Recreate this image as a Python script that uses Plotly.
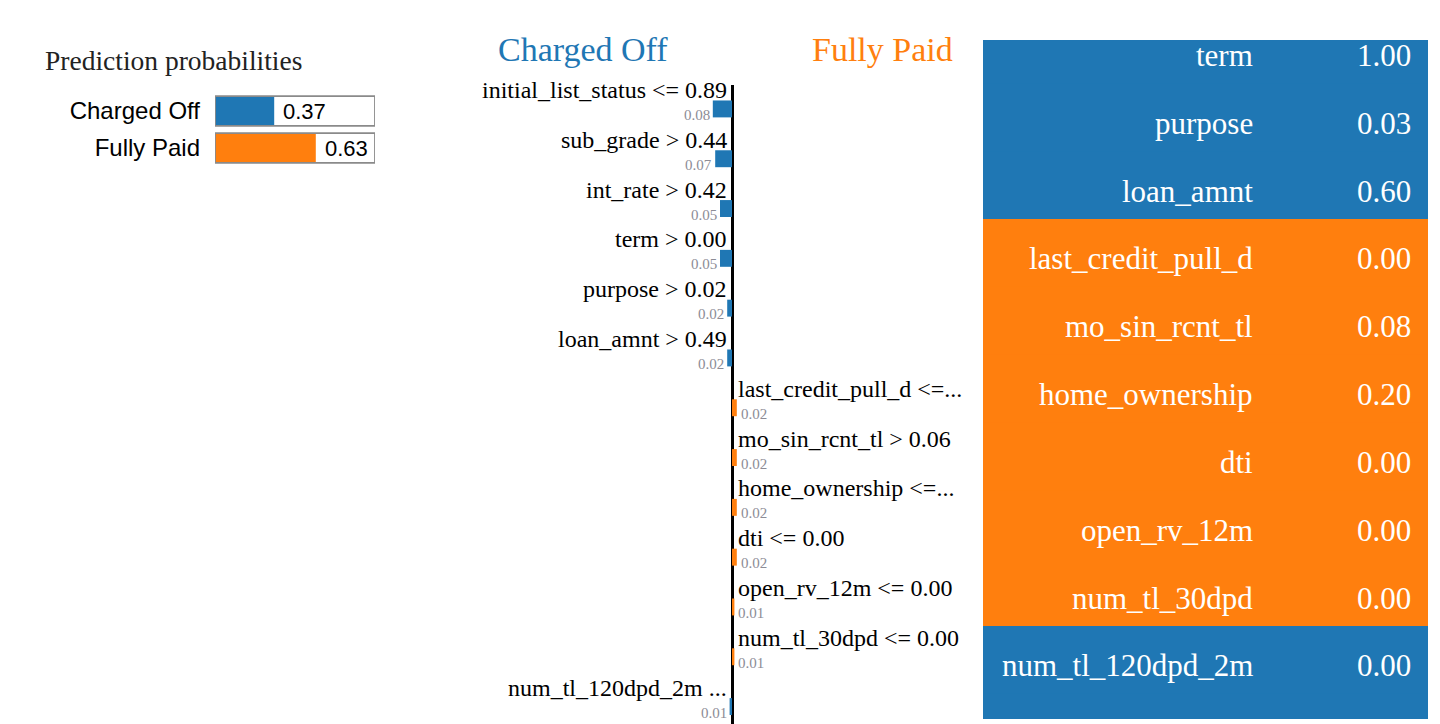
import plotly.graph_objects as go

W, H = 1440, 724
BLUE = "#1f77b4"
ORANGE = "#ff7f0e"
SERIF = "Liberation Serif"
SANS = "Liberation Sans"

# ---------------- data ----------------
classes = ["Charged Off", "Fully Paid"]
class_probs = [0.37, 0.63]

features = [
    "initial_list_status <= 0.89",
    "sub_grade > 0.44",
    "int_rate > 0.42",
    "term > 0.00",
    "purpose > 0.02",
    "loan_amnt > 0.49",
    "last_credit_pull_d <=...",
    "mo_sin_rcnt_tl > 0.06",
    "home_ownership <=...",
    "dti <= 0.00",
    "open_rv_12m <= 0.00",
    "num_tl_30dpd <= 0.00",
    "num_tl_120dpd_2m ...",
]
# negative = towards "Charged Off", positive = towards "Fully Paid"
weights = [-0.08, -0.07, -0.05, -0.05, -0.02, -0.02,
           0.02, 0.02, 0.02, 0.02, 0.01, 0.01, -0.01]

table_names = ["term", "purpose", "loan_amnt", "last_credit_pull_d",
               "mo_sin_rcnt_tl", "home_ownership", "dti", "open_rv_12m",
               "num_tl_30dpd", "num_tl_120dpd_2m", ""]
table_values = ["1.00", "0.03", "0.60", "0.00", "0.08", "0.20",
                "0.00", "0.00", "0.00", "0.00", ""]
table_side = ["Charged Off"] * 3 + ["Fully Paid"] * 6 + ["Charged Off"] * 2

# ---------------- helpers ----------------
def px_x(p):
    return p / W

def px_y(p):
    return 1 - p / H

class_color = {"Charged Off": BLUE, "Fully Paid": ORANGE}

fig = go.Figure()
annotations = []

# ---------------- prediction probabilities ----------------
rows_p = list(range(len(classes)))
fig.add_trace(go.Bar(orientation="h", x=[1] * len(classes), y=rows_p, width=0.8,
                     marker=dict(color="white", line=dict(width=0)),
                     xaxis="x", yaxis="y", hoverinfo="skip"))
fig.add_trace(go.Bar(orientation="h", x=class_probs, y=rows_p, width=0.8,
                     marker=dict(color=[class_color[c] for c in classes], line=dict(width=0)),
                     xaxis="x", yaxis="y", hoverinfo="skip"))
fig.add_trace(go.Bar(orientation="h", x=[1] * len(classes), y=rows_p, width=0.8,
                     marker=dict(color="rgba(0,0,0,0)", line=dict(color="#8a8a8a", width=1.8)),
                     xaxis="x", yaxis="y", hoverinfo="skip"))
for i, p in enumerate(class_probs):
    annotations.append(dict(x=p, y=i, xref="x", yref="y", text=f"{p:.2f}",
                            xanchor="left", yanchor="middle", xshift=7, showarrow=False,
                            font=dict(family=SANS, size=22, color="black")))

annotations.append(dict(x=px_x(43), y=px_y(61), xref="paper", yref="paper",
                        text="Prediction probabilities", xanchor="left", yanchor="middle",
                        showarrow=False, font=dict(family=SERIF, size=27.5, color="#222")))

# ---------------- explanation bars ----------------
rows = list(range(len(features)))
neg = [(r, w) for r, w in zip(rows, weights) if w < 0]
pos = [(r, w) for r, w in zip(rows, weights) if w > 0]
BAR_OFF = 0.38
fig.add_trace(go.Bar(orientation="h", x=[w for _, w in neg], y=[r + BAR_OFF for r, _ in neg],
                     width=0.34, marker=dict(color=BLUE, line=dict(width=0)),
                     xaxis="x2", yaxis="y2", hoverinfo="skip"))
fig.add_trace(go.Bar(orientation="h", x=[w for _, w in pos], y=[r + BAR_OFF for r, _ in pos],
                     width=0.34, marker=dict(color=ORANGE, line=dict(width=0)),
                     xaxis="x2", yaxis="y2", hoverinfo="skip"))
for r, (f, w) in enumerate(zip(features, weights)):
    left = w < 0
    annotations.append(dict(x=0, y=r, xref="x2", yref="y2", text=f,
                            xanchor="right" if left else "left", yanchor="middle",
                            xshift=-3 if left else 4, showarrow=False,
                            font=dict(family=SERIF, size=24, color="black")))
    annotations.append(dict(x=w, y=r + 0.5, xref="x2", yref="y2", text=f"{abs(w):.2f}",
                            xanchor="right" if left else "left", yanchor="middle",
                            xshift=-1 if left else 2, showarrow=False,
                            font=dict(family=SERIF, size=15, color="#8c8c96")))

annotations.append(dict(x=px_x(583), y=px_y(50), xref="paper", yref="paper",
                        text=classes[0], xanchor="center", yanchor="middle", showarrow=False,
                        font=dict(family=SERIF, size=34, color=BLUE)))
annotations.append(dict(x=px_x(882), y=px_y(50), xref="paper", yref="paper",
                        text=classes[1], xanchor="center", yanchor="middle", showarrow=False,
                        font=dict(family=SERIF, size=34, color=ORANGE)))

# ---------------- feature value table ----------------
trows = list(range(len(table_names)))
tcolors = [class_color[s] for s in table_side]
fig.add_trace(go.Bar(orientation="h", x=[1] * len(trows), y=trows, width=1.03,
                     marker=dict(color=tcolors, line=dict(width=0)),
                     xaxis="x3", yaxis="y3", hoverinfo="skip"))
for r, (n, v) in enumerate(zip(table_names, table_values)):
    if not n:
        continue
    annotations.append(dict(x=(1255 - 983) / 445, y=r, xref="x3", yref="y3", text=n,
                            xanchor="right", yanchor="middle", yshift=-5, showarrow=False,
                            font=dict(family=SERIF, size=31, color="white")))
    annotations.append(dict(x=(1413 - 983) / 445, y=r, xref="x3", yref="y3", text=v,
                            xanchor="right", yanchor="middle", yshift=-5, showarrow=False,
                            font=dict(family=SERIF, size=31, color="white")))

hidden = dict(showgrid=False, zeroline=False, showticklabels=False, showline=False, ticks="")

fig.update_layout(
    width=W, height=H, margin=dict(l=0, r=0, t=0, b=0),
    paper_bgcolor="white", plot_bgcolor="rgba(0,0,0,0)",
    showlegend=False, barmode="overlay",
    xaxis=dict(domain=[px_x(215), px_x(375)], range=[0, 1], fixedrange=True, **hidden),
    yaxis=dict(domain=[px_y(167), px_y(92)], range=[1.5135, -0.5135], fixedrange=True,
               showgrid=False, zeroline=False, showline=False, ticks="",
               tickvals=rows_p, ticktext=classes, ticklabelstandoff=14,
               tickfont=dict(family=SANS, size=24, color="black")),
    xaxis2=dict(domain=[px_x(492), px_x(972)], range=[-1, 1], fixedrange=True,
                showgrid=False, showticklabels=False, showline=False, ticks="",
                zeroline=True, zerolinecolor="black", zerolinewidth=3),
    yaxis2=dict(domain=[0, px_y(85)], range=[12.73, -0.1004], fixedrange=True, **hidden),
    xaxis3=dict(domain=[px_x(983), px_x(1428)], range=[0, 1], fixedrange=True, **hidden),
    yaxis3=dict(domain=[px_y(719), px_y(40)], range=[9.857, -0.1533], fixedrange=True, **hidden),
    annotations=annotations,
)

fig.write_html("out.html", config={"displayModeBar": False},
               post_script="document.body.style.margin='0';document.body.style.overflow='hidden';")
